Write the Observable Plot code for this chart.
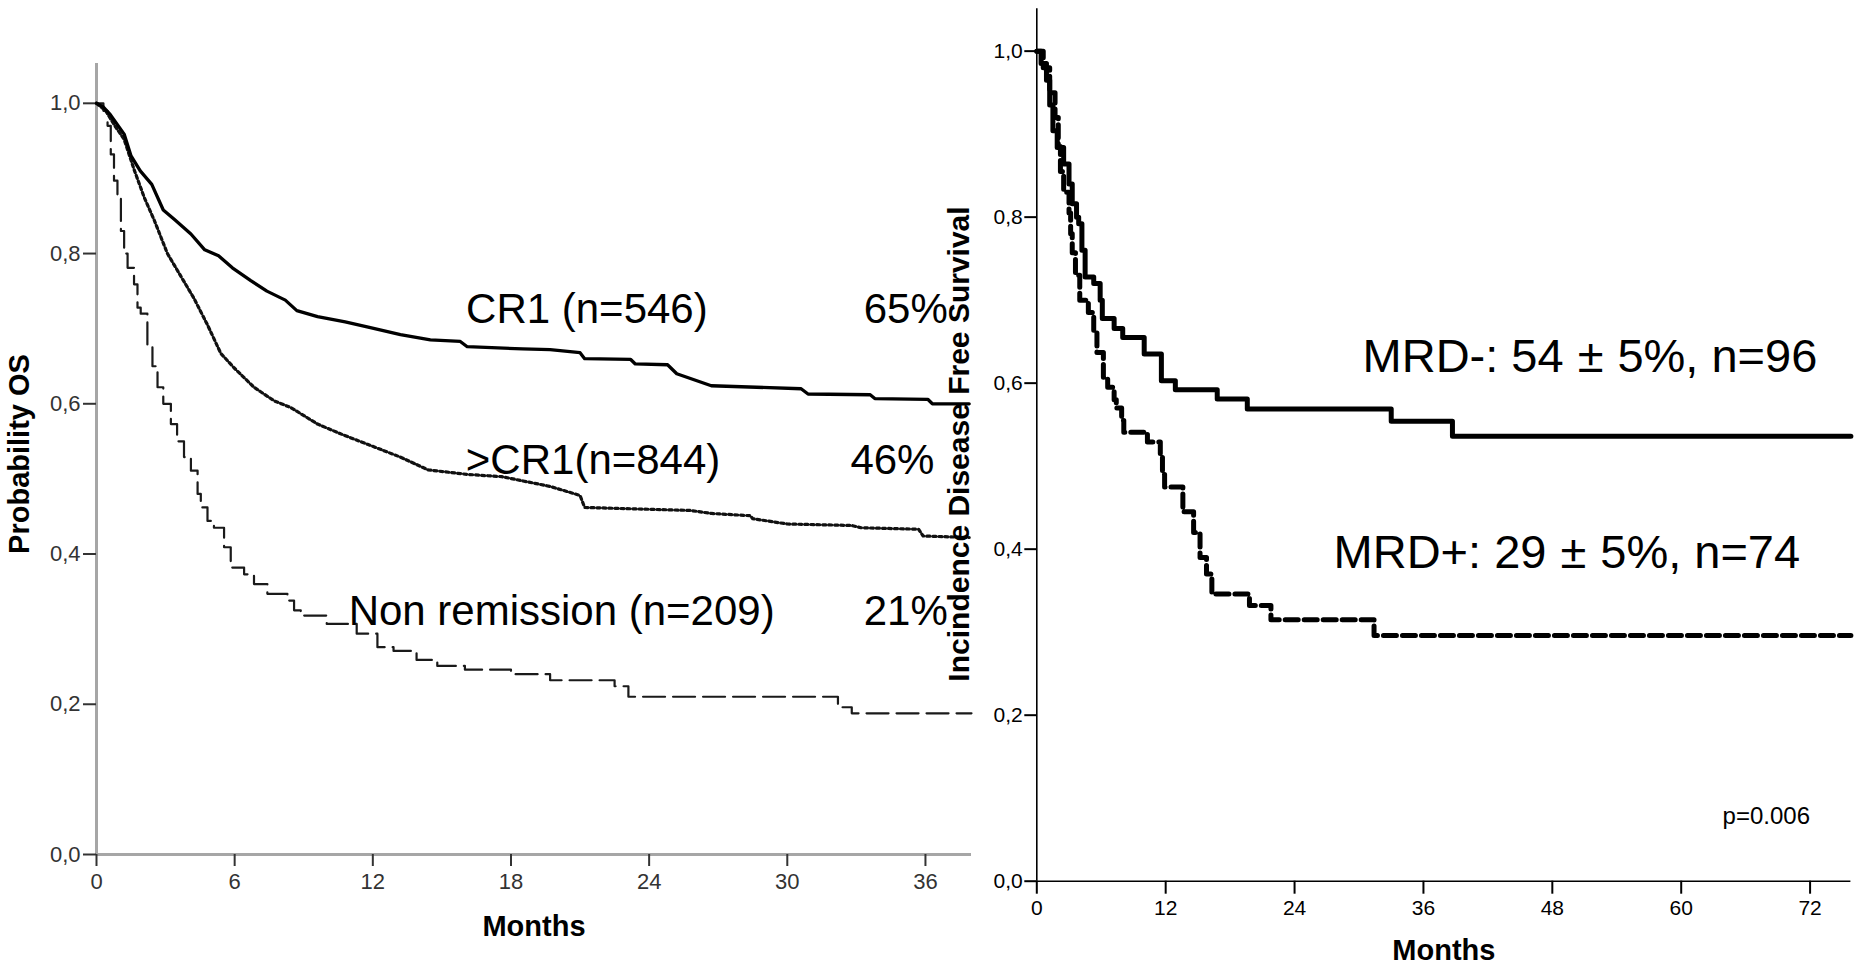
<!DOCTYPE html>
<html>
<head>
<meta charset="utf-8">
<script src="https://cdn.jsdelivr.net/npm/d3@7"></script>
<script src="https://cdn.jsdelivr.net/npm/@observablehq/plot@0.6"></script>
<style>
  html, body { margin: 0; padding: 0; background: #ffffff; }
  #wrap { position: relative; width: 1861px; height: 967px; overflow: hidden; background: #fff; }
  #left { position: absolute; left: 0; top: 0; width: 985px; height: 967px; }
  #right { position: absolute; left: 940px; top: 0; width: 921px; height: 967px; }
</style>
</head>
<body>
<div id="wrap"><div id="left"></div><div id="right"></div></div>
<script>
// ---------------- Left panel: overall survival by disease status ----------------
const leftTicksX = [0, 6, 12, 18, 24, 30, 36];
const probTicks = [0, 0.2, 0.4, 0.6, 0.8, 1.0];

const cr1Months = [0, 0.3, 0.6, 0.9, 1.2, 1.5, 1.9, 2.4, 2.9, 3.4, 4.1, 4.7, 5.3, 5.9, 6.7, 7.4, 8.2, 8.7, 9.6, 10.8, 11.8, 13.2, 14.5, 15.8, 16.1, 18.5, 19.7, 21.0, 21.2, 23.2, 23.4, 24.8, 25.2, 26.7, 30.6, 30.9, 33.6, 33.8, 36.1, 36.3, 37.9];
const cr1Surv   = [1.0, 0.995, 0.985, 0.972, 0.959, 0.930, 0.910, 0.892, 0.858, 0.845, 0.826, 0.805, 0.797, 0.781, 0.764, 0.750, 0.738, 0.724, 0.716, 0.709, 0.702, 0.692, 0.685, 0.683, 0.676, 0.673, 0.672, 0.668, 0.660, 0.659, 0.653, 0.652, 0.640, 0.624, 0.620, 0.613, 0.612, 0.607, 0.606, 0.600, 0.600];

const gtCr1Months = [0, 0.4, 0.8, 1.2, 1.63, 2.07, 2.5, 3.08, 3.66, 4.24, 4.82, 5.4, 5.97, 6.84, 7.71, 8.44, 9.6, 10.6, 11.77, 13.2, 14.4, 16.1, 17.6, 19.7, 21.0, 21.2, 25.8, 26.7, 28.4, 28.5, 30.0, 32.8, 33.2, 35.7, 35.9, 37.9];
const gtCr1Surv   = [1.0, 0.99, 0.97, 0.952, 0.912, 0.875, 0.845, 0.800, 0.770, 0.740, 0.705, 0.667, 0.648, 0.622, 0.604, 0.595, 0.573, 0.560, 0.546, 0.529, 0.512, 0.506, 0.503, 0.490, 0.478, 0.462, 0.458, 0.454, 0.451, 0.447, 0.440, 0.438, 0.435, 0.433, 0.424, 0.422];

const nrMonths = [0, 0.3, 0.48, 0.62, 0.76, 0.91, 1.06, 1.2, 1.35, 1.63, 1.78, 1.92, 2.21, 2.43, 2.65, 2.9, 3.23, 3.5, 3.8, 4.1, 4.39, 4.53, 4.82, 5.1, 5.54, 5.83, 6.41, 6.84, 7.42, 8.29, 8.58, 8.87, 10.0, 11.3, 12.2, 12.9, 13.9, 14.8, 16.0, 18.0, 19.7, 22.5, 23.1, 32.2, 32.8, 38.0];
const nrSurv   = [1.0, 0.99, 0.97, 0.932, 0.897, 0.875, 0.83, 0.80, 0.781, 0.759, 0.728, 0.72, 0.675, 0.65, 0.622, 0.60, 0.573, 0.55, 0.529, 0.511, 0.480, 0.462, 0.444, 0.435, 0.409, 0.382, 0.373, 0.360, 0.347, 0.338, 0.325, 0.318, 0.307, 0.294, 0.276, 0.271, 0.259, 0.251, 0.246, 0.240, 0.232, 0.224, 0.210, 0.196, 0.188, 0.188];

const leftLabels      = ["CR1 (n=546)", "65%", ">CR1(n=844)", "46%", "Non remission (n=209)", "21%"];
const leftLabelMonths = [16.05, 33.32, 16.04, 32.74, 10.95, 33.32];
const leftLabelProb   = [0.707, 0.707, 0.507, 0.507, 0.305, 0.305];

// ---------------- Right panel: DFS by MRD status ----------------
const rightTicksX = [0, 12, 24, 36, 48, 60, 72];

const mrdNegMonths = [0, 0.4, 0.9, 1.2, 1.5, 1.9, 2.5, 3.0, 3.3, 3.7, 3.9, 4.2, 4.5, 5.3, 5.9, 6.1, 7.2, 8.0, 10.0, 11.6, 12.9, 16.8, 19.6, 33.0, 38.7, 75.8];
const mrdNegSurv   = [1.0, 0.985, 0.965, 0.935, 0.904, 0.884, 0.864, 0.84, 0.816, 0.80, 0.792, 0.76, 0.728, 0.72, 0.70, 0.678, 0.666, 0.655, 0.635, 0.603, 0.592, 0.581, 0.569, 0.554, 0.536, 0.536];

const mrdPosMonths = [0, 0.6, 1.2, 1.7, 2.0, 2.2, 2.5, 3.0, 3.15, 3.3, 3.6, 4.0, 4.8, 5.3, 5.6, 6.2, 6.6, 7.2, 7.4, 7.9, 8.1, 10.3, 11.5, 11.7, 11.9, 13.6, 14.6, 15.2, 15.8, 16.3, 19.8, 21.8, 31.4, 75.8];
const mrdPosSurv   = [1.0, 0.98, 0.95, 0.92, 0.885, 0.855, 0.83, 0.805, 0.78, 0.757, 0.73, 0.70, 0.685, 0.663, 0.637, 0.607, 0.595, 0.58, 0.57, 0.555, 0.541, 0.529, 0.515, 0.49, 0.475, 0.445, 0.42, 0.39, 0.37, 0.346, 0.332, 0.315, 0.296, 0.296];

const rightLabels      = ["MRD-: 54\u00B15%, n=96", "MRD+: 29\u00B15%, n=74"];
const rightLabelMonths = [30.33, 27.63];
const rightLabelProb   = [0.613, 0.377];
const pValueText = ["p=0.006"];
const pValueMonth = [63.85];
const pValueProb  = [0.0695];

// ---------------- helpers ----------------
const zip = (xs, ys) => xs.map((x, i) => ({m: x, v: ys[i]}));
const labelRows = (t, xs, ys) => t.map((s, i) => ({text: s, m: xs[i], v: ys[i]}));
const comma = d => d.toFixed(1).replace(".", ",");
const FONT = "'Liberation Sans', Arial, Helvetica, sans-serif";

const leftPlot = Plot.plot({
  width: 985, height: 967,
  marginLeft: 96, marginRight: 14, marginTop: 63, marginBottom: 113,
  x: {domain: [0, 38]},
  y: {domain: [0, 1.053]},
  style: {fontFamily: FONT, background: "transparent", overflow: "visible"},
  marks: [
    Plot.ruleX([0], {stroke: "#a6a6a6", strokeWidth: 3}),
    Plot.ruleY([0], {stroke: "#a6a6a6", strokeWidth: 3}),
    Plot.axisY({ticks: probTicks, tickFormat: comma, tickSize: 13, tickPadding: 3, fontSize: 22, color: "#333", strokeWidth: 2, label: null}),
    Plot.axisX({ticks: leftTicksX, tickFormat: d => String(d), tickSize: 12, tickPadding: 7, fontSize: 22, color: "#333", strokeWidth: 2, label: null}),
    Plot.line(zip(nrMonths, nrSurv), {x: "m", y: "v", curve: "step-after", stroke: "#1a1a1a", strokeWidth: 2.2, strokeDasharray: "22,8"}),
    Plot.line(zip(gtCr1Months, gtCr1Surv), {x: "m", y: "v", curve: "linear", stroke: "#111", strokeWidth: 3.2, strokeDasharray: "3,3"}),
    Plot.line(zip(cr1Months, cr1Surv), {x: "m", y: "v", curve: "linear", stroke: "#000", strokeWidth: 3.3}),
    Plot.text(labelRows(leftLabels, leftLabelMonths, leftLabelProb), {x: "m", y: "v", text: "text", textAnchor: "start", lineAnchor: "bottom", fontSize: 42, fill: "#000"}),
    Plot.text(["Months"], {text: d => d, frameAnchor: "bottom", textAnchor: "middle", dy: 81, lineAnchor: "bottom", fontSize: 29, fontWeight: "bold", fill: "#000"}),
    Plot.text(["Probability OS"], {text: d => d, frameAnchor: "left", textAnchor: "middle", rotate: -90, dx: -68, dy: -5, lineAnchor: "bottom", fontSize: 29, fontWeight: "bold", fill: "#000"})
  ]
});

const rightPlot = Plot.plot({
  width: 921, height: 967,
  marginLeft: 96.3, marginRight: 10.6, marginTop: 8.3, marginBottom: 86.3,
  x: {domain: [0, 75.8]},
  y: {domain: [0, 1.051]},
  style: {fontFamily: FONT, background: "transparent", overflow: "visible"},
  marks: [
    Plot.ruleX([0], {stroke: "#000", strokeWidth: 1.6}),
    Plot.ruleY([0], {stroke: "#000", strokeWidth: 1.6}),
    Plot.axisY({ticks: probTicks, tickFormat: comma, tickSize: 12, tickPadding: 2, fontSize: 21, color: "#000", strokeWidth: 2, label: null}),
    Plot.axisX({ticks: rightTicksX, tickFormat: d => String(d), tickSize: 13, tickPadding: 6, fontSize: 21, color: "#000", strokeWidth: 2, label: null}),
    Plot.line(zip(mrdPosMonths, mrdPosSurv), {x: "m", y: "v", curve: "step-after", stroke: "#000", strokeWidth: 5, strokeDasharray: "13,6"}),
    Plot.line(zip(mrdNegMonths, mrdNegSurv), {x: "m", y: "v", curve: "step-after", stroke: "#000", strokeWidth: 5}),
    Plot.text(labelRows(rightLabels, rightLabelMonths, rightLabelProb), {x: "m", y: "v", text: "text", textAnchor: "start", lineAnchor: "bottom", fontSize: 47, fill: "#000"}),
    Plot.text(labelRows(pValueText, pValueMonth, pValueProb), {x: "m", y: "v", text: "text", textAnchor: "start", lineAnchor: "bottom", fontSize: 24, fill: "#000"}),
    Plot.text(["Months"], {text: d => d, frameAnchor: "bottom", textAnchor: "middle", dy: 79, lineAnchor: "bottom", fontSize: 29, fontWeight: "bold", fill: "#000"}),
    Plot.text(["Incindence Disease Free Survival"], {text: d => d, frameAnchor: "left", textAnchor: "middle", rotate: -90, dx: -68, dy: -1, lineAnchor: "bottom", fontSize: 30, fontWeight: "bold", fill: "#000"})
  ]
});

// widen the spacing around the ± sign, as in the reference typesetting
const SVGNS = "http://www.w3.org/2000/svg";
rightPlot.querySelectorAll("text").forEach(t => {
  if (t.querySelector("tspan")) return;
  const s = t.textContent;
  const i = s.indexOf("\u00B1");
  if (i < 0) return;
  t.textContent = "";
  [s.slice(0, i), "\u00B1", s.slice(i + 1)].forEach((p, k) => {
    const ts = document.createElementNS(SVGNS, "tspan");
    if (k > 0) ts.setAttribute("dx", 14);
    ts.textContent = p;
    t.appendChild(ts);
  });
});

document.getElementById("left").appendChild(leftPlot);
document.getElementById("right").appendChild(rightPlot);
</script>
</body>
</html>
